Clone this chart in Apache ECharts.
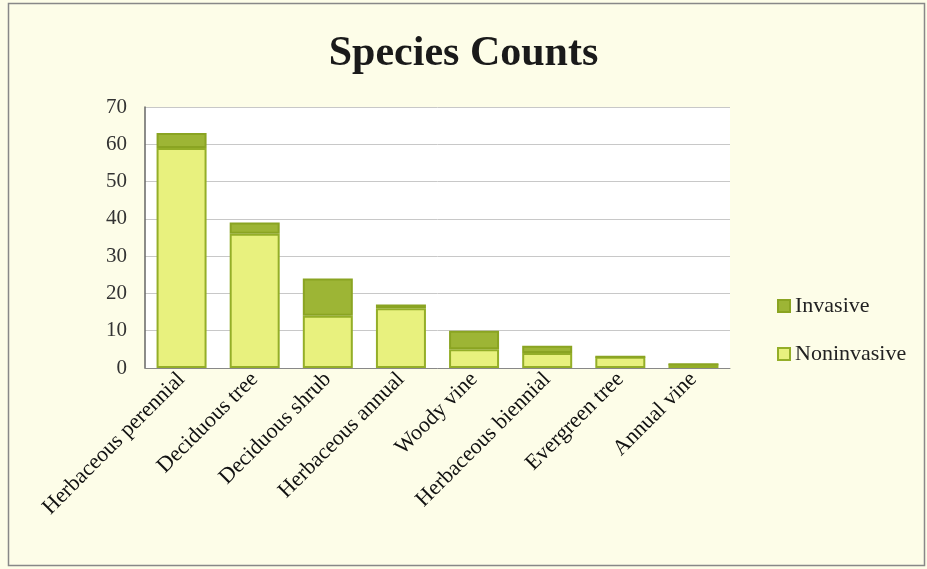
<!DOCTYPE html>
<html><head><meta charset="utf-8">
<script src="https://cdn.jsdelivr.net/npm/echarts@6/dist/echarts.min.js"></script>
<style>html,body{margin:0;padding:0;background:#fff;}#c{width:927px;height:569px;}</style>
</head><body><div id="c"></div>
<script>
const categories = ["Herbaceous perennial","Deciduous tree","Deciduous shrub","Herbaceous annual","Woody vine","Herbaceous biennial","Evergreen tree","Annual vine"];
const noninvasive = [59, 36, 14, 16, 5, 4, 3, 1];
const invasive = [4, 3, 10, 1, 5, 2, 0, 0];
const yTicks = [0,10,20,30,40,50,60,70];
const font = '"Liberation Serif", "DejaVu Serif", serif';
const chart = echarts.init(document.getElementById('c'));
chart.setOption({
  backgroundColor: '#fdfde8',
  animation: false,
  textStyle: {fontFamily: font},
  graphic: [{type:'rect', shape:{x:8.5,y:3.5,width:916,height:562}, style:{fill:'none', stroke:'#888', lineWidth:1.5}, silent:true}],
  title: {text:'Species Counts', left:'center', top:28, textStyle:{fontFamily:font, fontSize:42, fontWeight:'bold', color:'#1a1a1a'}},
  grid: {left:145, right:197, top:107, bottom:201, show:true, backgroundColor:'#fff', borderWidth:0},
  legend: {orient:'vertical', left:772, top:290, itemGap:26, itemWidth:12, itemHeight:12, icon:'rect', data:['Invasive','Noninvasive'],
    textStyle:{fontFamily:font, fontSize:22, color:'#222'}},
  xAxis: {type:'category', data:categories,
    axisLine:{show:true, lineStyle:{color:'#888'}}, axisTick:{show:false},
    axisLabel:{rotate:45, interval:0, fontFamily:font, fontSize:22, color:'#111', margin:8}},
  yAxis: {type:'value', min:0, max:70, interval:10,
    axisLine:{show:true, lineStyle:{color:'#666', width:1.5}}, axisTick:{show:false},
    splitLine:{lineStyle:{color:'#c8c8c8'}},
    axisLabel:{fontFamily:font, fontSize:21, color:'#333', margin:18, formatter: v => yTicks.includes(v) ? String(v) : ''}},
  series: [
    {name:'Noninvasive', type:'bar', stack:'s', data:noninvasive, barWidth:50,
      itemStyle:{color:'#e8f17e', borderColor:'#94ae28', borderWidth:2}},
    {name:'Invasive', type:'bar', stack:'s', data:invasive, barWidth:50,
      itemStyle:{color:'#9db535', borderColor:'#8aa422', borderWidth:2}}
  ]
});
</script></body></html>
